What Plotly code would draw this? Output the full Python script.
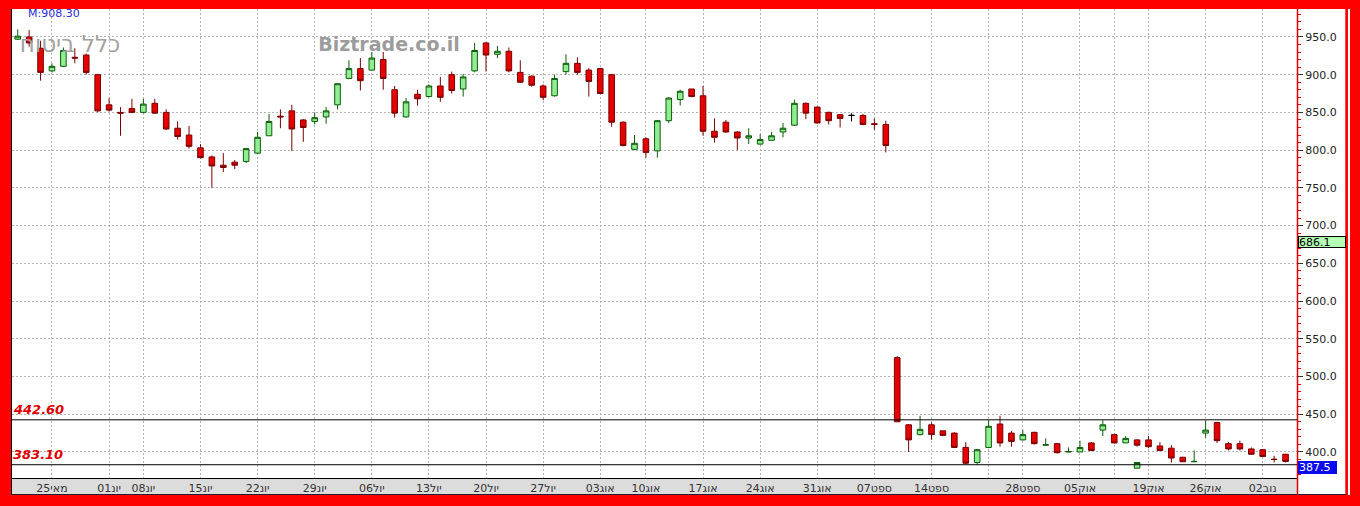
import plotly.graph_objects as go

# ---------------- data ----------------
# trading-day slot of each candle (slot 98 holds two prints)
slots = [0, 1, 2, 3, 4, 5, 6, 7, 8, 9, 10, 11, 12, 13, 14, 15, 16, 17, 18, 19,
         20, 21, 22, 23, 24, 25, 26, 27, 28, 29, 30, 31, 32, 33, 34, 35, 36, 37, 38, 39,
         40, 41, 42, 43, 44, 45, 46, 47, 48, 49, 50, 51, 52, 53, 54, 55, 56, 57, 58, 59,
         60, 61, 62, 63, 64, 65, 66, 67, 68, 69, 70, 71, 72, 73, 74, 75, 76, 77, 78, 79,
         80, 81, 82, 83, 84, 85, 86, 87, 88, 89, 90, 91, 92, 93, 94, 95, 96, 97, 98, 98,
         99, 100, 101, 102, 103, 104, 105, 106, 107, 108, 109, 110, 111]

opens = [947, 950, 935, 905, 911, 923, 926, 900, 860, 850, 855, 850, 862, 850, 829, 820, 803, 791, 780, 784,
         785, 796, 819, 845, 852, 840, 838, 844, 860, 895, 908, 906, 920, 880, 844, 874, 871, 885, 900, 881,
         905, 942, 927, 931, 903, 898, 885, 872, 904, 915, 906, 908, 900, 837, 801, 815, 799, 839, 867, 881,
         872, 825, 837, 824, 816, 808, 813, 824, 833, 862, 857, 850, 847, 846, 846, 835, 834, 525, 436, 423,
         436, 428, 425, 406, 386, 406, 437, 425, 416, 426, 409, 411, 400, 400, 412, 429, 423, 412, 416, 378.5,
         416, 408, 405, 393, 387, 425, 439, 411, 411, 404, 403, 390.5, 397]

highs = [960, 959, 945, 915, 936, 935, 928, 901, 869, 857, 868, 868, 868, 854, 838, 832, 808, 793, 796, 787,
         803, 824, 848, 854, 860, 841, 850, 857, 888, 919, 922, 930, 930, 885, 869, 880, 887, 897, 904, 901,
         942, 943, 938, 936, 919, 899, 887, 900, 927, 923, 909, 909, 901, 838, 820, 817, 840, 870, 880, 881,
         885, 842, 840, 825, 829, 821, 824, 836, 867, 863, 858, 851, 847, 849, 848, 842, 839, 527, 437, 448,
         439, 428, 426, 413, 404, 442, 448, 428, 429, 427, 418, 412, 406, 415, 413, 442, 423, 421, 417, 386,
         421, 413, 409, 393.5, 402, 442, 440, 413, 415, 406, 404, 395, 397.5]

lows = [946, 937, 892, 903, 910, 915, 900, 850, 851, 819, 849, 849, 848, 827, 814, 802, 789, 750, 771, 775,
        783, 795, 819, 829, 799, 811, 834, 835, 854, 894, 879, 906, 880, 843, 843, 859, 870, 864, 875, 871,
        903, 904, 922, 903, 889, 884, 866, 871, 900, 900, 871, 874, 831, 805, 800, 790, 790, 836, 859, 870,
        819, 810, 823, 800, 808, 807, 813, 817, 832, 841, 835, 834, 830, 838, 833, 827, 797, 440, 400, 422,
        416, 421, 405, 384, 383, 405, 407, 407, 415, 410, 409, 398, 400, 400, 401, 421, 411, 412, 407, 378.5,
        405, 401, 386, 387, 387, 419, 412, 402, 402, 396, 393, 386, 386]

closes = [951, 942, 903, 911, 932, 922, 903, 852, 853, 849, 850, 861, 849, 828, 818, 805, 790, 779, 777, 780,
          802, 817, 838, 844, 828, 830, 843, 852, 888, 908, 892, 922, 895, 849, 864, 868, 885, 870, 879, 897,
          932, 926, 931, 905, 890, 886, 870, 895, 915, 903, 891, 875, 837, 806, 809, 797, 839, 869, 878, 871,
          825, 817, 824, 816, 819, 814, 819, 829, 862, 849, 836, 839, 842, 846, 834, 834, 806, 440, 416, 430,
          423, 422, 406, 385, 403, 434, 412, 414, 423, 411, 409.5, 399, 400.5, 406, 402, 436, 412, 418, 409, 386,
          407, 402, 392, 387, 387.5, 429, 415, 404, 404, 397, 394, 390, 387.5]

# x-axis labels (slot where each week starts)
tick_slots = [3, 8, 11, 16, 21, 26, 31, 36, 41, 46, 51, 55, 60, 65, 70, 75, 80, 85, 88, 93, 96, 99, 104, 109]
tick_labels = ["25מאי", "01יונ", "08יונ", "15יונ", "22יונ", "29יונ", "06יול", "13יול", "20יול", "27יול",
               "03אוג", "10אוג", "17אוג", "24אוג", "31אוג", "07ספט", "14ספט", "", "28ספט", "05אוק",
               "", "19אוק", "26אוק", "02נוב"]

y_ticks = [400, 450, 500, 550, 600, 650, 700, 750, 800, 850, 900, 950]
level_lines = [442.60, 383.10]
mid_value = 686.1
last_value = 387.5
max_text = "M:908.30"
stock_name = "כלל ביטוח"
site_name = "Biztrade.co.il"

# ---------------- layout geometry (pixels) ----------------
W, H = 1360, 506
L, R, T, B = 12, 1297, 9, 478
X_RANGE = [-0.5, 112.0]
Y_RANGE = [365.5, 987.0]


def px(x):
    return (x - L) / (R - L)


def py(y):
    return (B - y) / (B - T)


def px_to_slot(x):
    return X_RANGE[0] + (x - L) / (R - L) * (X_RANGE[1] - X_RANGE[0])


def py_to_val(y):
    return Y_RANGE[1] - (y - T) / (B - T) * (Y_RANGE[1] - Y_RANGE[0])


FONT = "DejaVu Sans, Verdana, sans-serif"

fig = go.Figure()

# watermark texts (drawn first so the candles sit on top)
fig.add_trace(go.Scatter(x=[px_to_slot(70)], y=[py_to_val(46)], mode="text", text=[stock_name],
                         textfont=dict(family=FONT, size=23, color="#a3a3a3"),
                         hoverinfo="skip", showlegend=False))
fig.add_trace(go.Scatter(x=[px_to_slot(389)], y=[py_to_val(46)], mode="text", text=[site_name],
                         textfont=dict(family="DejaVu Sans Bold, DejaVu Sans, sans-serif", size=19,
                                       color="#9c9c9c", weight="bold"),
                         hoverinfo="skip", showlegend=False))

# split candles by direction
groups = {"up": ([], [], [], [], []), "down": ([], [], [], [], []), "flat": ([], [], [], [], [])}
for s, o, h, lo, c in zip(slots, opens, highs, lows, closes):
    key = "up" if c > o else ("down" if c < o else "flat")
    for lst, v in zip(groups[key], (s, o, h, lo, c)):
        lst.append(v)

styles = {
    "up": ("#0d5c0d", "#90ee90"),
    "down": ("#7a0000", "#e60000"),
    "flat": ("#000000", "#000000"),
}
for key, (xs, os_, hs, ls, cs) in groups.items():
    if not xs:
        continue
    line_c, fill_c = styles[key]
    fig.add_trace(go.Candlestick(
        x=xs, open=os_, high=hs, low=ls, close=cs,
        increasing=dict(line=dict(color=line_c, width=1), fillcolor=fill_c),
        decreasing=dict(line=dict(color=line_c, width=1), fillcolor=fill_c),
        whiskerwidth=0, showlegend=False, hoverinfo="skip"))

shapes = []
# right axis panel (white) and bottom date strip (grey)
shapes.append(dict(type="rect", xref="paper", yref="paper", x0=px(1297), x1=px(1350), y0=py(495), y1=py(9),
                   fillcolor="white", line=dict(width=0), layer="below"))
shapes.append(dict(type="rect", xref="paper", yref="paper", x0=px(11), x1=px(1297), y0=py(494.5), y1=py(478),
                   fillcolor="#dcdcdc", line=dict(width=0), layer="below"))
# thin red frame line at right of the price panel
shapes.append(dict(type="rect", xref="paper", yref="paper", x0=px(1345.3), x1=px(1348), y0=py(495), y1=py(9),
                   fillcolor="#ff0000", line=dict(width=0), layer="above"))
# left black border
shapes.append(dict(type="line", xref="paper", yref="paper", x0=px(11.5), x1=px(11.5), y0=py(494.5), y1=py(9),
                   line=dict(color="black", width=1), layer="above"))
# bottom black line under date strip and price panel
shapes.append(dict(type="line", xref="paper", yref="paper", x0=px(11), x1=px(1346), y0=py(494.5), y1=py(494.5),
                   line=dict(color="#202020", width=1), layer="above"))
# red price-axis line running down through the strip
shapes.append(dict(type="line", xref="paper", yref="paper", x0=px(1297.5), x1=px(1297.5), y0=py(495), y1=py(9),
                   line=dict(color="#e00000", width=1.5), layer="above"))
# support / resistance lines
for lv in level_lines:
    shapes.append(dict(type="line", xref="paper", yref="y", x0=0, x1=1, y0=lv, y1=lv,
                       line=dict(color="black", width=1), layer="above"))

annotations = []
for lv in level_lines:
    annotations.append(dict(xref="paper", yref="y", x=0, y=lv, xanchor="left", yanchor="bottom",
                            text=f"<b><i>{lv:.2f}</i></b>", showarrow=False, xshift=-1, yshift=1,
                            font=dict(family=FONT, size=13, color="#e00000")))
annotations.append(dict(xref="paper", yref="paper", x=px(26), y=py(13.5), xanchor="left", yanchor="middle",
                        text=max_text, showarrow=False,
                        font=dict(family=FONT, size=11, color="#2a2ad8")))
annotations.append(dict(xref="paper", yref="y", x=px(1297.5), y=mid_value, xanchor="left", yanchor="top",
                        text=f"{mid_value:.1f}", showarrow=False, align="left", width=46, height=10,
                        bgcolor="#b4ffb4", bordercolor="black", borderwidth=1, borderpad=0,
                        font=dict(family=FONT, size=11, color="black")))
annotations.append(dict(xref="paper", yref="y", x=px(1298), y=last_value, xanchor="left", yanchor="top",
                        text=f"{last_value:.1f}", showarrow=False, align="left", width=37, height=11,
                        bgcolor="#0a0aee", bordercolor="#0a0aee", borderwidth=1, borderpad=0,
                        font=dict(family=FONT, size=11, color="white")))

fig.update_layout(
    width=W, height=H,
    margin=dict(l=L, r=W - R, t=T, b=H - B, pad=0, autoexpand=False),
    paper_bgcolor="#ff0000", plot_bgcolor="white",
    showlegend=False, shapes=shapes, annotations=annotations,
    hovermode=False, boxgap=0.3,
    xaxis=dict(range=X_RANGE, fixedrange=True, rangeslider=dict(visible=False),
               tickmode="array", tickvals=tick_slots, ticktext=tick_labels,
               tickfont=dict(family=FONT, size=11, color="#333333"),
               ticks="", ticklen=0,
               showgrid=True, gridcolor="#b4b4b4", griddash="2px,2px", gridwidth=1,
               showline=True, linecolor="black", linewidth=1, zeroline=False, automargin=False),
    yaxis=dict(range=Y_RANGE, side="right", fixedrange=True,
               tickmode="array", tickvals=y_ticks, ticktext=[f"{v:.1f}" for v in y_ticks],
               tickfont=dict(family=FONT, size=11, color="#222222"),
               ticks="outside", ticklen=5, tickcolor="#333333",
               minor=dict(dtick=10, tick0=0, ticks="outside", ticklen=3, tickcolor="#e00000", showgrid=False),
               showgrid=True, gridcolor="#b4b4b4", griddash="2px,2px", gridwidth=1,
               showline=False, zeroline=False, automargin=False),
)

fig.write_html("out.html", config={"displayModeBar": False},
               post_script="document.body.style.margin='0';document.body.style.overflow='hidden';")
